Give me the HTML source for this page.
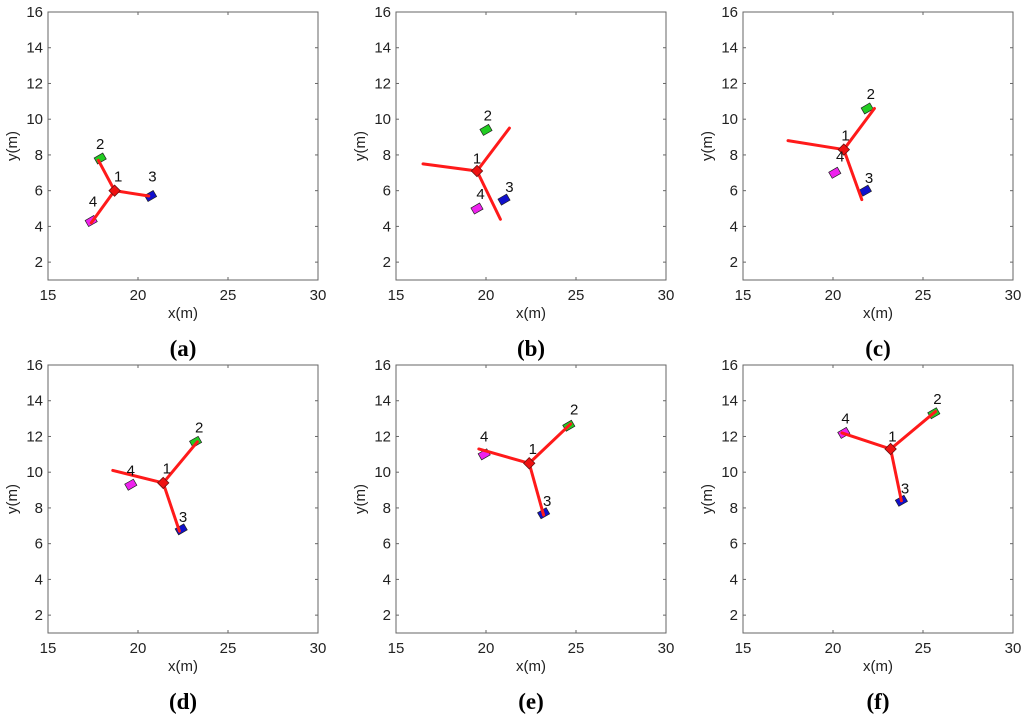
<!DOCTYPE html>
<html><head><meta charset="utf-8"><style>
html,body{margin:0;padding:0;background:#fff;}
svg{display:block;font-family:"Liberation Sans",sans-serif;}
</style></head><body>
<svg id="fig" width="1024" height="722" viewBox="0 0 1024 722"></svg>
<script>
const panelLetters = ["a","b","c","d","e","f"];
const hubX = [18.7,19.5,20.6,21.4,22.4,23.2];
const hubY = [6.0,7.1,8.3,9.4,10.5,11.3];
const arm2X = [17.8,21.3,22.3,23.3,24.7,25.7];
const arm2Y = [7.7,9.5,10.6,11.7,12.7,13.4];
const arm3X = [20.6,20.8,21.6,22.3,23.2,23.8];
const arm3Y = [5.7,4.4,5.5,6.7,7.6,8.4];
const arm4X = [17.4,16.5,17.5,18.6,19.6,20.5];
const arm4Y = [4.2,7.5,8.8,10.1,11.3,12.2];
const greenX = [17.9,20.0,21.9,23.2,24.6,25.6];
const greenY = [7.8,9.4,10.6,11.7,12.6,13.3];
const blueX = [20.7,21.0,21.8,22.4,23.2,23.8];
const blueY = [5.7,5.5,6.0,6.8,7.7,8.4];
const magX = [17.4,19.5,20.1,19.6,19.9,20.6];
const magY = [4.3,5.0,7.0,9.3,11.0,12.2];
const lab1X = [18.9,19.5,20.7,21.6,22.6,23.3], lab1Y = [6.8,7.8,9.1,10.2,11.3,12.0];
const lab2X = [17.9,20.1,22.1,23.4,24.9,25.8], lab2Y = [8.6,10.2,11.4,12.5,13.5,14.1];
const lab3X = [20.8,21.3,22.0,22.5,23.4,24.0], lab3Y = [6.8,6.2,6.7,7.5,8.4,9.1];
const lab4X = [17.5,19.7,20.4,19.6,19.9,20.7], lab4Y = [5.4,5.8,7.9,10.1,12.0,13.0];
const xTicks = [15,20,25,30];
const yTicks = [2,4,6,8,10,12,14,16];

const NS="http://www.w3.org/2000/svg";
const svg=document.getElementById('fig');
function mk(tag,attrs,parent){const e=document.createElementNS(NS,tag);for(const k in attrs)e.setAttribute(k,attrs[k]);parent.appendChild(e);return e;}
const offX=[48,396,743], offY=[12,365], W=270, H=268;
for(let p=0;p<6;p++){
  const L=offX[p%3], T=offY[Math.floor(p/3)];
  const sx=v=>L+(v-15)/15*W, sy=v=>T+H-(v-1)/15*H;
  const g=mk('g',{},svg);
  
  
  const box=mk('rect',{x:L,y:T,width:W,height:H,fill:'#fff',stroke:'#666','stroke-width':1},g);
  
  
  xTicks.forEach(t=>{
    const x=sx(t);
    mk('line',{x1:x,y1:T+H,x2:x,y2:T+H-3,stroke:'#666'},g);
    mk('line',{x1:x,y1:T,x2:x,y2:T+3,stroke:'#666'},g);
    const tx=mk('text',{x:x,y:T+H+20,'text-anchor':'middle','font-size':15,fill:'#222'},g);
    tx.textContent=t;
    
    
  });
  yTicks.forEach(t=>{
    const y=sy(t);
    mk('line',{x1:L,y1:y,x2:L+3,y2:y,stroke:'#666'},g);
    mk('line',{x1:L+W,y1:y,x2:L+W-3,y2:y,stroke:'#666'},g);
    const tx=mk('text',{x:L-5,y:y+5,'text-anchor':'end','font-size':15,fill:'#222'},g);
    tx.textContent=t;
    
    
  });
  const xl=mk('text',{x:L+W/2,y:T+H+38,'text-anchor':'middle','font-size':15,fill:'#222'},g);
  xl.textContent='x(m)';
  
  
  const yl=mk('text',{x:0,y:0,'text-anchor':'middle','font-size':15,fill:'#222',transform:`translate(${L-31},${T+H/2}) rotate(-90)`},g);
  yl.textContent='y(m)';
  
  
  const pl=mk('text',{x:L+W/2,y:T+H+76,'text-anchor':'middle','font-size':23,'font-weight':'bold','font-family':'"Liberation Serif",serif',fill:'#000'},g);
  pl.textContent='('+panelLetters[p]+')';
  
  
  const rects=[[greenX,greenY,'#22cc22'],[blueX,blueY,'#1010cc'],[magX,magY,'#ee22ee']];
  rects.forEach(([ax,ay,c],i)=>{
    const r=mk('rect',{x:sx(ax[p])-5,y:sy(ay[p])-3.5,width:10,height:7,fill:c,stroke:'#222','stroke-width':0.7,transform:`rotate(-30 ${sx(ax[p])} ${sy(ay[p])})`},g);
    
    
  });
  [[arm2X,arm2Y],[arm3X,arm3Y],[arm4X,arm4Y]].forEach(([ax,ay],i)=>{
    const ln=mk('line',{x1:sx(hubX[p]),y1:sy(hubY[p]),x2:sx(ax[p]),y2:sy(ay[p]),stroke:'#ff1a1a','stroke-width':3,'stroke-linecap':'round'},g);
    
    
  });
  const hub=mk('rect',{x:sx(hubX[p])-4,y:sy(hubY[p])-4,width:8,height:8,fill:'#ee1111',stroke:'#661111','stroke-width':0.8,transform:`rotate(45 ${sx(hubX[p])} ${sy(hubY[p])})`},g);
  
  
  [[lab1X,lab1Y,'1'],[lab2X,lab2Y,'2'],[lab3X,lab3Y,'3'],[lab4X,lab4Y,'4']].forEach(([ax,ay,s])=>{
    const t=mk('text',{x:sx(ax[p]),y:sy(ay[p])+5,'text-anchor':'middle','font-size':15,fill:'#111'},g);
    t.textContent=s;
    
    
  });
}
</script>
</body></html>
